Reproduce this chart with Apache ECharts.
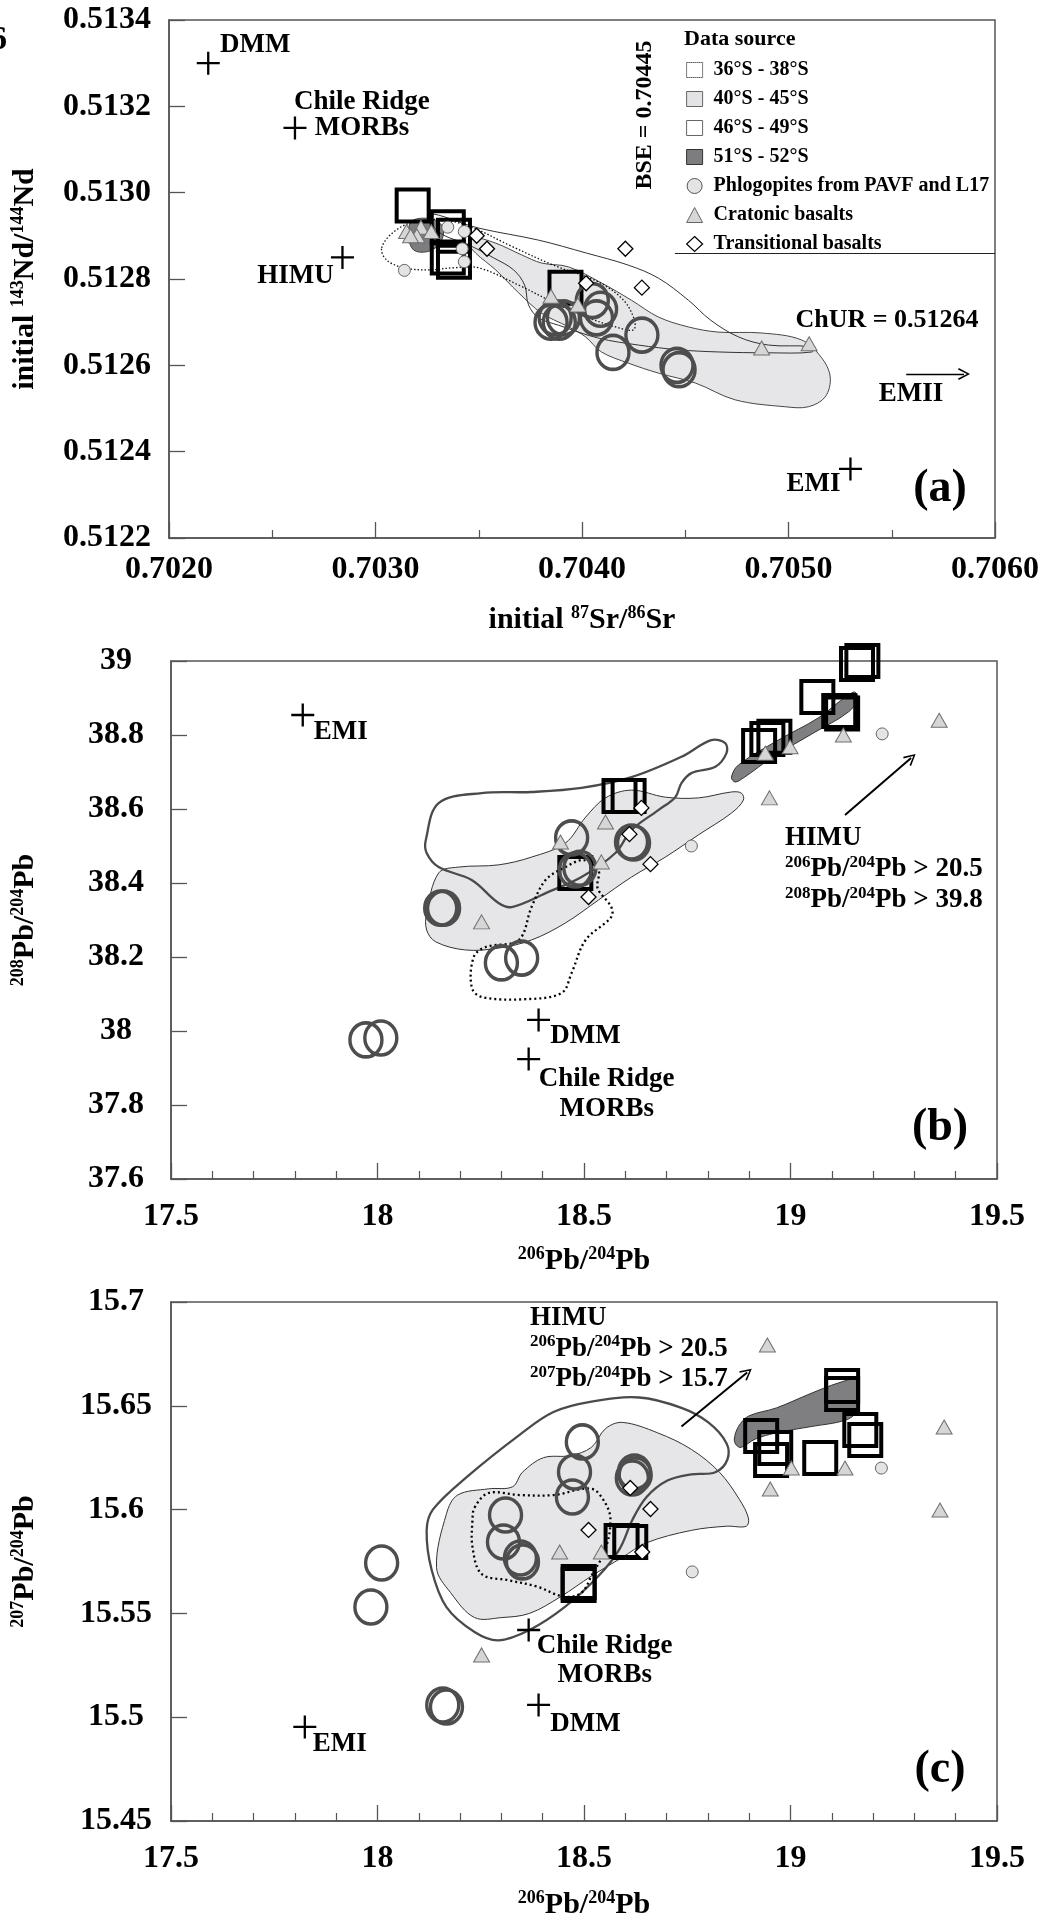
<!DOCTYPE html>
<html><head><meta charset="utf-8">
<script src="https://cdn.jsdelivr.net/npm/echarts@6/dist/echarts.min.js"></script>
<style>html,body{margin:0;padding:0;background:#fff}#c{width:1042px;height:1923px}</style>
</head><body><div id="c"></div>
<script>
// ---------------- axis ranges and tick steps ----------------
const srRange = [0.7020, 0.7060], srStep = 0.0010;
const ndRange = [0.5122, 0.5134], ndStep = 0.0002;
const pb206Range = [17.5, 19.5], pb206Step = 0.5;
const pb208Range = [37.6, 39.0], pb208Step = 0.2;
const pb207Range = [15.45, 15.70], pb207Step = 0.05;
const BSE = 0.70445, CHUR = 0.51264;
const legendBoxBottomNd = 0.51286;

// ---------------- panel (a): 87Sr/86Sr vs 143Nd/144Nd ----------------
const aSquares = [[0.70318,0.51297],[0.70335,0.51292],[0.70338,0.51290],[0.70335,0.51285],[0.70338,0.51284],[0.70392,0.51278]];
const aCircles = [[0.70387,0.51271],[0.70389,0.51270],[0.70391,0.51271],[0.70385,0.51270],[0.70405,0.51275],[0.70407,0.51271],[0.70409,0.51273],[0.70429,0.51267],[0.70415,0.51263],[0.70446,0.51260],[0.70447,0.51259]];
const aPhlog = [[0.70335,0.51292],[0.70343,0.51291],[0.70342,0.51287],[0.70343,0.51284],[0.70314,0.51282]];
const aCraton = [[0.70315,0.51291],[0.70322,0.51292],[0.70320,0.51290],[0.70317,0.51290],[0.70327,0.51291],[0.70385,0.51276],[0.70398,0.51274],[0.70487,0.51264],[0.70510,0.51265]];
const aTrans = [[0.70349,0.51290],[0.70354,0.51287],[0.70402,0.51279],[0.70421,0.51287],[0.70429,0.51278]];
const aEndNames = ['DMM','Chile Ridge\nMORBs','HIMU','EMI'];
const aEndValues = [[0.70219,0.51330],[0.70261,0.51315],[0.70284,0.51285],[0.70530,0.51236]];
const aEMIIArrow = [[0.70557,0.51258],[0.70585,0.51258]];
const aFieldDotted = [[0.70303,0.512872],[0.703088,0.512909],[0.703185,0.512932],[0.70333,0.512937],[0.703475,0.512918],[0.703645,0.512879],[0.703862,0.512832],[0.70408,0.512793],[0.704201,0.512751],[0.704254,0.512705],[0.704249,0.512682],[0.704177,0.512687],[0.704031,0.51271],[0.703886,0.51274],[0.703693,0.512786],[0.703499,0.512826],[0.703378,0.512826],[0.703258,0.512821],[0.703137,0.512826],[0.703054,0.512844]];
const aFieldGray = [[0.703466,0.512897],[0.703582,0.512883],[0.703707,0.512856],[0.703804,0.512837],[0.703935,0.512828],[0.704094,0.512791],[0.704239,0.512751],[0.70437,0.512712],[0.704515,0.512689],[0.70466,0.512677],[0.704868,0.512675],[0.705062,0.512659],[0.705158,0.512619],[0.705202,0.512573],[0.705178,0.512527],[0.705096,0.512504],[0.704984,0.512504],[0.704742,0.51252],[0.704549,0.512559],[0.70437,0.512582],[0.704225,0.512605],[0.704094,0.512631],[0.704017,0.512666],[0.703935,0.512689],[0.703804,0.512721],[0.703693,0.512768],[0.703582,0.512821],[0.703485,0.51286],[0.703451,0.512883]];
const aFieldWhite = [[0.703258,0.512951],[0.703499,0.512918],[0.70379,0.51289],[0.704022,0.51286],[0.704225,0.512832],[0.70437,0.512802],[0.704515,0.512751],[0.704622,0.512705],[0.704757,0.512666],[0.704902,0.512647],[0.705105,0.512643],[0.705115,0.512631],[0.704902,0.512629],[0.70466,0.512631],[0.704467,0.512636],[0.704273,0.512647],[0.70408,0.512663],[0.703886,0.512693],[0.70379,0.51271],[0.703741,0.51274],[0.703722,0.512786],[0.703669,0.512821],[0.703572,0.512849],[0.703451,0.512879],[0.703306,0.512909]];
const aFieldDark = [[0.703171,0.512932],[0.703233,0.512941],[0.703306,0.512932],[0.70333,0.512909],[0.703306,0.512879],[0.703248,0.512863],[0.703185,0.512867],[0.703161,0.512895]];

// ---------------- panel (b): 206Pb/204Pb vs 208Pb/204Pb ----------------
const bSquares = [[19.161,38.992],[19.174,39.000],[19.065,38.903],[19.118,38.865],[19.125,38.858],[18.924,38.770],[18.944,38.789],[18.961,38.795],[18.586,38.635],[18.608,38.635],[18.479,38.427]];
const bCircles = [[18.153,38.332],[18.160,38.332],[18.470,38.522],[18.479,38.435],[18.490,38.440],[18.615,38.511],[18.620,38.508],[18.300,38.184],[18.349,38.197],[17.972,37.976],[18.008,37.981]];
const bPhlog = [[18.760,38.500],[19.222,38.803]];
const bCraton = [[18.252,38.295],[18.443,38.511],[18.552,38.565],[18.542,38.457],[18.939,38.751],[18.999,38.768],[19.128,38.800],[18.949,38.630],[19.360,38.840]];
const bTrans = [[18.639,38.603],[18.610,38.532],[18.661,38.451],[18.511,38.362]];
const bEndNames = ['EMI','DMM','Chile Ridge\nMORBs'];
const bEndValues = [[17.819,38.854],[18.390,38.030],[18.366,37.924]];
const bHIMUArrow = [[19.132,38.584],[19.292,38.738]];
const bFieldDotted = [[18.499,38.462],[18.535,38.435],[18.533,38.386],[18.566,38.335],[18.566,38.308],[18.504,38.246],[18.470,38.157],[18.446,38.103],[18.359,38.086],[18.252,38.092],[18.228,38.119],[18.233,38.200],[18.262,38.227],[18.342,38.246],[18.373,38.335],[18.407,38.408],[18.455,38.443]];
const bFieldGray = [[18.119,38.319],[18.148,38.427],[18.196,38.443],[18.293,38.449],[18.373,38.470],[18.455,38.508],[18.504,38.578],[18.552,38.630],[18.615,38.651],[18.697,38.632],[18.777,38.630],[18.857,38.646],[18.881,38.643],[18.886,38.624],[18.857,38.589],[18.777,38.530],[18.697,38.470],[18.615,38.416],[18.535,38.354],[18.455,38.292],[18.373,38.246],[18.293,38.224],[18.213,38.219],[18.141,38.241],[18.119,38.273]];
const bFieldWhite = [[18.117,38.516],[18.148,38.616],[18.252,38.643],[18.373,38.646],[18.494,38.657],[18.615,38.686],[18.736,38.741],[18.808,38.786],[18.842,38.778],[18.845,38.751],[18.818,38.714],[18.760,38.697],[18.736,38.670],[18.721,38.632],[18.680,38.597],[18.615,38.543],[18.576,38.481],[18.494,38.416],[18.414,38.376],[18.325,38.335],[18.293,38.346],[18.228,38.408],[18.148,38.443],[18.119,38.481]];
const bFieldDark = [[18.857,38.686],[18.874,38.719],[18.970,38.786],[19.067,38.846],[19.152,38.916],[19.164,38.900],[19.140,38.862],[19.055,38.805],[18.958,38.741],[18.886,38.684],[18.866,38.673]];

// ---------------- panel (c): 206Pb/204Pb vs 207Pb/204Pb ----------------
const cSquares = [[19.125,15.6595],[19.125,15.6557],[18.929,15.6355],[18.963,15.6297],[18.953,15.6239],[19.072,15.6249],[19.169,15.6383],[19.181,15.6335],[18.591,15.5849],[18.612,15.5844],[18.487,15.5651],[18.487,15.5637]];
const cCircles = [[18.496,15.6326],[18.477,15.6181],[18.472,15.6061],[18.622,15.6181],[18.624,15.6167],[18.617,15.6152],[18.310,15.5974],[18.305,15.5844],[18.346,15.5767],[18.351,15.5748],[18.010,15.5743],[17.984,15.5531],[18.158,15.5059],[18.167,15.5049]];
const cPhlog = [[18.762,15.570],[19.220,15.620]];
const cCraton = [[18.441,15.5796],[18.542,15.5796],[18.951,15.6099],[19.002,15.620],[19.132,15.620],[18.252,15.530],[18.944,15.6793],[19.372,15.6398],[19.362,15.5998]];
const cTrans = [[18.612,15.6104],[18.661,15.6003],[18.511,15.5902],[18.641,15.5796]];
const cEndNames = ['Chile Ridge\nMORBs','DMM','EMI'];
const cEndValues = [[18.366,15.542],[18.390,15.5059],[17.824,15.4953]];
const cHIMUArrow = [[18.736,15.640],[18.895,15.666]];
const cFieldDotted = [[18.235,15.601],[18.269,15.608],[18.344,15.607],[18.426,15.607],[18.518,15.610],[18.552,15.603],[18.564,15.595],[18.552,15.581],[18.518,15.568],[18.494,15.560],[18.453,15.558],[18.385,15.563],[18.317,15.566],[18.252,15.569],[18.230,15.582],[18.230,15.595]];
const cFieldGray = [[18.143,15.572],[18.167,15.598],[18.194,15.607],[18.269,15.610],[18.327,15.611],[18.351,15.618],[18.402,15.625],[18.467,15.626],[18.518,15.630],[18.552,15.639],[18.593,15.642],[18.678,15.637],[18.760,15.629],[18.828,15.618],[18.876,15.605],[18.898,15.596],[18.893,15.592],[18.845,15.592],[18.760,15.590],[18.651,15.584],[18.593,15.577],[18.518,15.568],[18.443,15.558],[18.368,15.550],[18.301,15.548],[18.235,15.548],[18.177,15.560]];
const cFieldWhite = [[18.119,15.590],[18.134,15.600],[18.218,15.616],[18.344,15.636],[18.426,15.647],[18.518,15.652],[18.634,15.654],[18.736,15.649],[18.801,15.642],[18.845,15.632],[18.847,15.624],[18.818,15.618],[18.760,15.617],[18.702,15.614],[18.651,15.606],[18.617,15.595],[18.586,15.581],[18.535,15.568],[18.453,15.553],[18.368,15.542],[18.293,15.537],[18.235,15.541],[18.167,15.553],[18.131,15.571]];
const cFieldDark = [[18.864,15.634],[18.874,15.640],[18.898,15.645],[18.966,15.649],[19.050,15.656],[19.116,15.661],[19.164,15.663],[19.164,15.658],[19.159,15.647],[19.132,15.643],[19.050,15.640],[18.966,15.637],[18.915,15.634],[18.881,15.630],[18.869,15.631]];

// ---------------- legend names ----------------
const LG = ['36°S - 38°S','40°S - 45°S','46°S - 49°S','51°S - 52°S','Phlogopites from PAVF and L17','Cratonic basalts','Transitional basalts'];

// ---------------- styles ----------------
const F = "'Liberation Serif','Times New Roman',serif";
const PLUS = 'path://M10.8,0h2.4v10.8h10.8v2.4h-10.8v10.8h-2.4v-10.8h-10.8v-2.4h10.8z';
const PLUS_SIZE = 23;
const CHEV = 'path://M0,10L5,0L10,10L8.8,10.7L5,2.7L1.2,10.7Z';
const AX = '#555';
const MK = {
  square: {symbol:'rect', symbolSize:32, itemStyle:{color:'rgba(0,0,0,0)', borderColor:'#000', borderWidth:4, opacity:1}},
  circle: {symbol:'circle', symbolSize:[32,34], itemStyle:{color:'rgba(0,0,0,0)', borderColor:'#4d4d4d', borderWidth:3.5, opacity:1}},
  craton: {symbol:'triangle', symbolSize:[16,14], itemStyle:{color:'#d6d6d6', borderColor:'#707070', borderWidth:1, opacity:1}},
  phlog: {symbol:'circle', symbolSize:12, itemStyle:{color:'#e4e4e4', borderColor:'#666', borderWidth:1, opacity:1}},
  trans: {symbol:'diamond', symbolSize:[15,15], itemStyle:{color:'#fff', borderColor:'#000', borderWidth:1.3, opacity:1}},
  plus: {symbol:PLUS, symbolSize:PLUS_SIZE, itemStyle:{color:'#000', opacity:1}}
};
const FS = {
  a: {
    gray: {fill:'#e6e6e8', stroke:'#333', lineWidth:0.9},
    dark: {fill:'#7d7d7f', stroke:'#333', lineWidth:0.9},
    white: {fill:'none', stroke:'#333', lineWidth:1},
    dot: {fill:'none', stroke:'#111', lineWidth:1.3, lineDash:[1.5,2]}
  },
  b: {
    gray: {fill:'#e6e6e8', stroke:'#333', lineWidth:1},
    dark: {fill:'#7f7f81', stroke:'#333', lineWidth:1},
    white: {fill:'none', stroke:'#4a4a4a', lineWidth:2.3},
    dot: {fill:'none', stroke:'#000', lineWidth:2.3, lineDash:[2,3]}
  }
};
const endLabelStyle = {
  a: [{offset:[47,-18]},{offset:[67,-13], lineHeight:26},{offset:[-47,19]},{offset:[-37,15]}],
  b: [{offset:[38,17]},{offset:[47,16]},{offset:[78,35], lineHeight:30}],
  c: [{offset:[76,31], lineHeight:29},{offset:[47,19]},{offset:[35,17]}]
};

// ---------------- builders ----------------
function field(name, pts, gi, style) {
  return {
    type:'custom', name, xAxisIndex:gi, yAxisIndex:gi, data:pts, silent:true, animation:false, z:1, clip:true,
    encode:{x:0, y:1},
    renderItem: function (params, api) {
      if (params.dataIndex !== 0) return null;
      const points = pts.map(p => api.coord(p));
      return {type:'polygon', shape:{points, smooth:0.35}, style:Object.assign({}, style)};
    }
  };
}
function scat(name, data, gi, mk, z) {
  return Object.assign({type:'scatter', name, xAxisIndex:gi, yAxisIndex:gi, data, silent:true, animation:false, clip:false, z:z||3}, JSON.parse(JSON.stringify(mk)));
}
function ends(names, values, gi, styles, extra) {
  const h = PLUS_SIZE / 2;
  const data = values.map((v, i) => ({
    name:names[i], value:v,
    label:{show:true, position:[h + styles[i].offset[0], h + styles[i].offset[1]], formatter:'{b}', lineHeight:styles[i].lineHeight||28,
      fontFamily:F, fontWeight:'bold', fontSize:27, color:'#000', align:'center', verticalAlign:'middle',
      textBorderWidth:0, textBorderColor:'transparent', opacity:1}
  }));
  const s = scat('end-members', data, gi, MK.plus, 6);
  return Object.assign(s, extra || {});
}
function arrowLine(seg, width) {
  return {silent:true, animation:false, symbol:['none', CHEV], symbolSize:[12,12], label:{show:false},
    lineStyle:{color:'#000', width:width, type:'solid', opacity:1},
    data:[[{coord:seg[0]},{coord:seg[1]}]]};
}
function panel(gi, P, st) {
  return [
    field(LG[1], P.gray, gi, st.gray),
    field(LG[3], P.dark, gi, st.dark),
    field(LG[2], P.white, gi, st.white),
    field(LG[0], P.dot, gi, st.dot),
    scat('squares', P.sq, gi, MK.square, 3),
    scat('circles', P.ci, gi, MK.circle, 3),
    scat(LG[5], P.cr, gi, MK.craton, 4),
    scat(LG[4], P.ph, gi, MK.phlog, 4),
    scat(LG[6], P.tr, gi, MK.trans, 5)
  ];
}
const sup = {fontSize:18, fontWeight:'bold', fontFamily:F, verticalAlign:'top', lineHeight:18, color:'#000'};
function axisName(size) {
  return {fontSize:size, fontWeight:'bold', fontFamily:F, color:'#000', lineHeight:size+2, rich:{s:Object.assign({}, sup)}};
}
function valueAxis(gi, range, step, fmt, o) {
  return Object.assign({
    type:'value', gridIndex:gi, min:range[0], max:range[1], interval:step,
    axisLine:{show:true, onZero:false, lineStyle:{color:AX, width:1.5}},
    axisTick:{show:true, inside:true, length:16, lineStyle:{color:AX, width:1.3}},
    splitLine:{show:false},
    axisLabel:{formatter:fmt, fontFamily:F, fontWeight:'bold', fontSize:32, color:'#000'},
    nameLocation:'middle'
  }, o);
}
const f4 = v => v.toFixed(4);
const fpb = v => String(+v.toFixed(2));

const series = [].concat(
  panel(0, {gray:aFieldGray, dark:aFieldDark, white:aFieldWhite, dot:aFieldDotted, sq:aSquares, ci:aCircles, cr:aCraton, ph:aPhlog, tr:aTrans}, FS.a),
  [ends(aEndNames, aEndValues, 0, endLabelStyle.a, {
    markLine:{silent:true, animation:false, symbol:'none', label:{show:false}, lineStyle:{color:'#222', width:1.2, type:'solid', opacity:1},
      data:[{xAxis:BSE},{yAxis:CHUR},[{coord:[BSE, legendBoxBottomNd]},{coord:[srRange[1], legendBoxBottomNd]}]]}
  })],
  [{type:'scatter', name:'arrow-a', xAxisIndex:0, yAxisIndex:0, data:[], silent:true, markLine:arrowLine(aEMIIArrow, 1.4)}],
  panel(1, {gray:bFieldGray, dark:bFieldDark, white:bFieldWhite, dot:bFieldDotted, sq:bSquares, ci:bCircles, cr:bCraton, ph:bPhlog, tr:bTrans}, FS.b),
  [ends(bEndNames, bEndValues, 1, endLabelStyle.b, {markLine:arrowLine(bHIMUArrow, 2)})],
  panel(2, {gray:cFieldGray, dark:cFieldDark, white:cFieldWhite, dot:cFieldDotted, sq:cSquares, ci:cCircles, cr:cCraton, ph:cPhlog, tr:cTrans}, FS.b),
  [ends(cEndNames, cEndValues, 2, endLabelStyle.c, {markLine:arrowLine(cHIMUArrow, 2)})]
);

const legendData = [
  {name:LG[0], icon:'rect', itemStyle:{color:'#fff', borderColor:'#000', borderWidth:1, borderType:'dotted', opacity:1}},
  {name:LG[1], icon:'rect', itemStyle:{color:'#e3e3e5', borderColor:'#666', borderWidth:1, opacity:1}},
  {name:LG[2], icon:'rect', itemStyle:{color:'#fff', borderColor:'#666', borderWidth:1, opacity:1}},
  {name:LG[3], icon:'rect', itemStyle:{color:'#7d7d7f', borderColor:'#333', borderWidth:1, opacity:1}},
  {name:LG[4], icon:'circle', itemStyle:{color:'#e4e4e4', borderColor:'#555', borderWidth:1, opacity:1}},
  {name:LG[5], icon:'triangle', itemStyle:{color:'#d6d6d6', borderColor:'#666', borderWidth:1, opacity:1}},
  {name:LG[6], icon:'diamond', itemStyle:{color:'#fff', borderColor:'#000', borderWidth:1.2, opacity:1}}
];

const T = (o) => Object.assign({fontFamily:F, fontWeight:'bold', fill:'#000'}, o);
const himuRich = {s:{fontSize:17, fontWeight:'bold', fontFamily:F, verticalAlign:'top', lineHeight:20, fill:'#000'}};

const option = {
  backgroundColor:'#fff',
  animation:false,
  grid:[
    {left:169, top:20, width:828, height:518, show:true, borderColor:AX, borderWidth:1.5},
    {left:171, top:661, width:826, height:518, show:true, borderColor:AX, borderWidth:1.5},
    {left:171, top:1302, width:826, height:519, show:true, borderColor:AX, borderWidth:1.5}
  ],
  xAxis:[
    valueAxis(0, srRange, srStep, f4, {minorTick:{show:true, splitNumber:2, length:8, lineStyle:{color:AX, width:1.2}},
      axisLabel:{formatter:f4, fontFamily:F, fontWeight:'bold', fontSize:32, color:'#000', margin:16},
      name:'initial {s|87}Sr/{s|86}Sr', nameGap:66, nameTextStyle:axisName(30)}),
    valueAxis(1, pb206Range, pb206Step, fpb, {minorTick:{show:true, splitNumber:5, length:8, lineStyle:{color:AX, width:1.2}},
      axisLabel:{formatter:fpb, fontFamily:F, fontWeight:'bold', fontSize:32, color:'#000', margin:22},
      name:'{s|206}Pb/{s|204}Pb', nameGap:66, nameTextStyle:axisName(30)}),
    valueAxis(2, pb206Range, pb206Step, fpb, {minorTick:{show:true, splitNumber:5, length:8, lineStyle:{color:AX, width:1.2}},
      axisLabel:{formatter:fpb, fontFamily:F, fontWeight:'bold', fontSize:32, color:'#000', margin:22},
      name:'{s|206}Pb/{s|204}Pb', nameGap:68, nameTextStyle:axisName(30)})
  ],
  yAxis:[
    valueAxis(0, ndRange, ndStep, f4, {axisLabel:{formatter:f4, fontFamily:F, fontWeight:'bold', fontSize:32, color:'#000', margin:18, align:'right'},
      name:'initial {s|143}Nd/{s|144}Nd', nameGap:128, nameTextStyle:axisName(30)}),
    valueAxis(1, pb208Range, pb208Step, fpb, {axisLabel:{formatter:fpb, fontFamily:F, fontWeight:'bold', fontSize:32, color:'#000', margin:55, align:'center'},
      name:'{s|208}Pb/{s|204}Pb', nameGap:130, nameTextStyle:axisName(30)}),
    valueAxis(2, pb207Range, pb207Step, fpb, {axisLabel:{formatter:fpb, fontFamily:F, fontWeight:'bold', fontSize:32, color:'#000', margin:55, align:'center'},
      name:'{s|207}Pb/{s|204}Pb', nameGap:130, nameTextStyle:axisName(30)})
  ],
  legend:{
    data:legendData, orient:'vertical', left:681, top:55, itemWidth:16, itemHeight:15, itemGap:9, selectedMode:false,
    textStyle:{fontFamily:F, fontWeight:'bold', fontSize:20, color:'#000', lineHeight:20, padding:[0,0,0,6]}
  },
  graphic:[
    {type:'text', x:-10, y:40, silent:true, style:T({text:'6', fontSize:34, verticalAlign:'middle'})},
    {type:'text', x:684, y:39, silent:true, style:T({text:'Data source', fontSize:22, verticalAlign:'middle'})},
    {type:'text', x:645, y:115, rotation:Math.PI/2, silent:true, style:T({text:'BSE = 0.70445', fontSize:24, align:'center', verticalAlign:'middle'})},
    {type:'text', x:887, y:320, silent:true, style:T({text:'ChUR = 0.51264', fontSize:26, align:'center', verticalAlign:'middle'})},
    {type:'text', x:911, y:394, silent:true, style:T({text:'EMII', fontSize:27, align:'center', verticalAlign:'middle'})},
    {type:'text', x:940, y:489, silent:true, style:T({text:'(a)', fontSize:46, align:'center', verticalAlign:'middle'})},
    {type:'text', x:940, y:1128, silent:true, style:T({text:'(b)', fontSize:46, align:'center', verticalAlign:'middle'})},
    {type:'text', x:940, y:1770, silent:true, style:T({text:'(c)', fontSize:46, align:'center', verticalAlign:'middle'})},
    {type:'text', x:785, y:823, silent:true, style:T({text:'HIMU\n{s|206}Pb/{s|204}Pb > 20.5\n{s|208}Pb/{s|204}Pb > 39.8', fontSize:27, lineHeight:31, verticalAlign:'top', rich:himuRich})},
    {type:'text', x:530, y:1303, silent:true, style:T({text:'HIMU\n{s|206}Pb/{s|204}Pb > 20.5\n{s|207}Pb/{s|204}Pb > 15.7', fontSize:27, lineHeight:30.5, verticalAlign:'top', rich:himuRich})}
  ],
  series:series
};
const chart = echarts.init(document.getElementById('c'), null, {renderer:'canvas'});
chart.setOption(option);
</script></body></html>
